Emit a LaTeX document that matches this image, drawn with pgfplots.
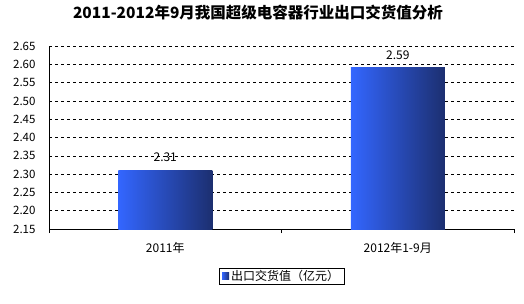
\documentclass[border=0pt]{standalone}
\usepackage{pgfplots}
\pgfplotsset{compat=1.18}
\usepackage{fontspec}
\setmainfont{Noto Sans CJK SC}
\definecolor{barL}{HTML}{3366FF}
\definecolor{barR}{HTML}{1C2F70}
\begin{document}
\begin{tikzpicture}
\path[use as bounding box] (0pt,0pt) rectangle (524pt,303pt);
\node[font=\bfseries\fontsize{15.5}{18}\selectfont] at (258pt,290pt) {2011-2012年9月我国超级电容器行业出口交货值分析};
\begin{axis}[at={(49pt,74pt)}, anchor=south west, scale only axis,
  width=465pt, height=183pt,
  xmin=0, xmax=2, ymin=2.15, ymax=2.65,
  axis x line*=bottom, axis y line*=left,
  axis line style={black, line width=0.8pt},
  ytick={2.15,2.20,2.25,2.30,2.35,2.40,2.45,2.50,2.55,2.60,2.65},
  yticklabel style={/pgf/number format/fixed, /pgf/number format/precision=2, /pgf/number format/fixed zerofill, font=\fontsize{11.5}{13}\selectfont},
  /pgf/number format/assume math mode=true,
  ytick style={draw=none},
  ymajorgrids, grid style={black, dashed, line width=0.5pt},
  yticklabel shift=6pt,
  xtick={0,1,2}, xticklabels={}, xtick style={black, line width=0.6pt},
  tick align=outside, major tick length=4pt,
  extra x ticks={0.5,1.5}, extra x tick labels={2011年,2012年1-9月},
  extra x tick style={tick style={draw=none}, grid=none, ticklabel style={font=\fontsize{12}{14}\selectfont, yshift=-6pt}},
  legend style={at={(0.5,-0.213)}, anchor=north, draw=black, line width=0.6pt, font=\fontsize{12}{14}\selectfont, inner xsep=3pt, inner ysep=0pt},
  legend image code/.code={\fill[left color=barL, right color=barR] (0pt,-3.5pt) rectangle (7pt,3.5pt);},
  nodes near coords, nodes near coords style={font=\fontsize{12}{14}\selectfont, /pgf/number format/fixed, /pgf/number format/precision=2, yshift=5pt},
]
\addplot[ybar, bar width=94pt, bar shift=0pt, draw=none, left color=barL, right color=barR]
  coordinates {(0.5,2.31)};
\addlegendentry{出口交货值（亿元）}
\addplot[ybar, bar width=94pt, bar shift=0pt, draw=none, left color=barL, right color=barR, forget plot]
  coordinates {(1.5,2.59)};
\end{axis}
\end{tikzpicture}
\end{document}
